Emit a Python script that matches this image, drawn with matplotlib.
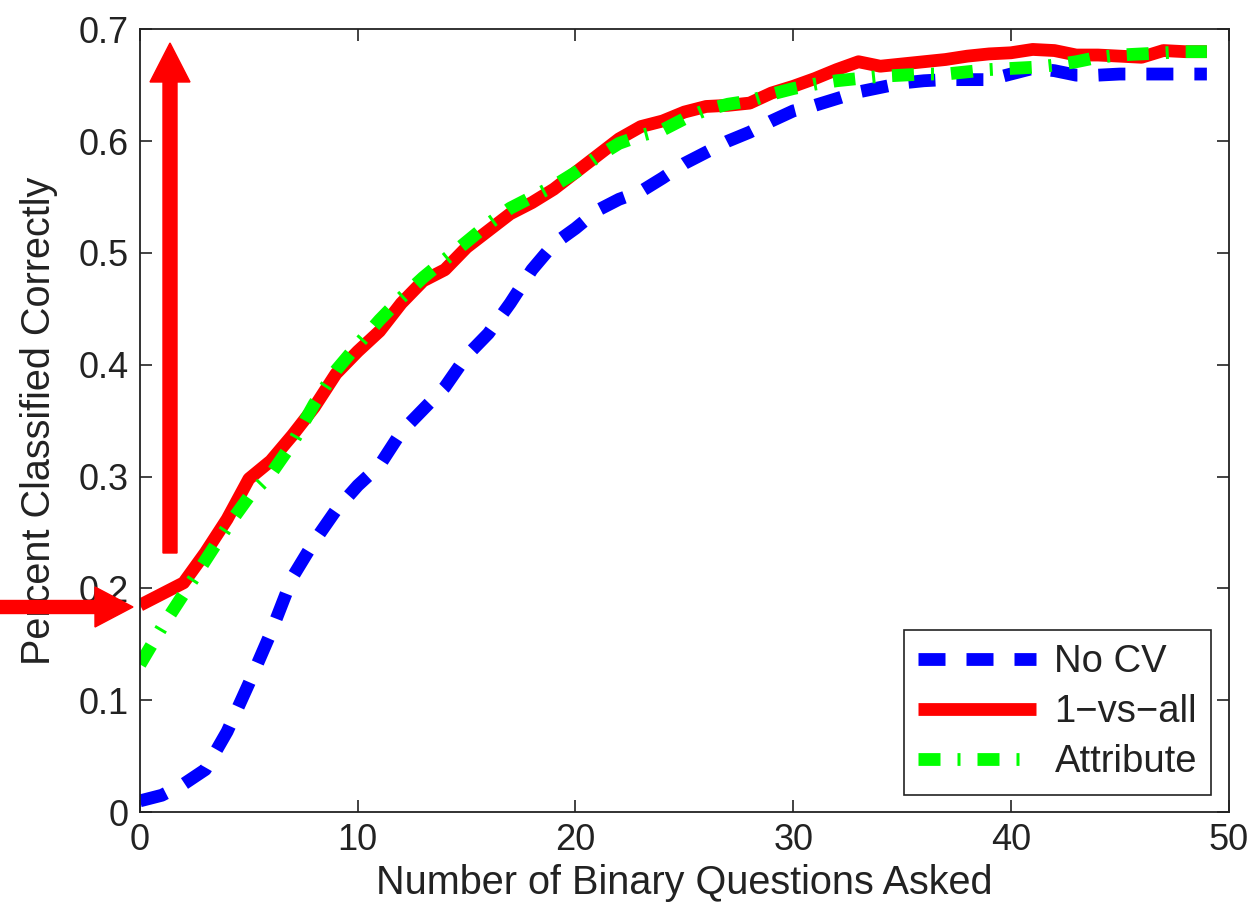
import matplotlib
matplotlib.use("Agg")
import matplotlib.pyplot as plt
from matplotlib.patches import FancyArrow
from matplotlib.transforms import IdentityTransform

plt.rcParams['font.family'] = ['Liberation Sans', 'DejaVu Sans']

# number of binary questions asked
questions = list(range(50))

no_cv = [0.010, 0.015, 0.025, 0.038, 0.072, 0.115, 0.160, 0.210, 0.242, 0.270,
         0.292, 0.310, 0.340, 0.360, 0.380, 0.408, 0.428, 0.455, 0.485, 0.508,
         0.522, 0.538, 0.548, 0.555, 0.567, 0.580, 0.590, 0.600, 0.608, 0.618,
         0.627, 0.632, 0.638, 0.644, 0.648, 0.652, 0.654, 0.655, 0.655, 0.655,
         0.660, 0.665, 0.663, 0.659, 0.659, 0.660, 0.660, 0.660, 0.660, 0.660]

one_vs_all = [0.185, 0.195, 0.205, 0.232, 0.262, 0.298, 0.314, 0.337, 0.362, 0.392,
              0.412, 0.430, 0.455, 0.475, 0.485, 0.505, 0.520, 0.535, 0.545, 0.557,
              0.572, 0.587, 0.602, 0.613, 0.618, 0.626, 0.631, 0.632, 0.634, 0.643,
              0.649, 0.656, 0.664, 0.671, 0.667, 0.669, 0.671, 0.673, 0.676, 0.678,
              0.679, 0.682, 0.681, 0.677, 0.677, 0.676, 0.675, 0.681, 0.680, 0.680]

attribute = [0.132, 0.165, 0.195, 0.225, 0.255, 0.282, 0.302, 0.330, 0.365, 0.395,
             0.418, 0.440, 0.460, 0.478, 0.494, 0.510, 0.526, 0.540, 0.550, 0.560,
             0.572, 0.586, 0.598, 0.605, 0.610, 0.620, 0.628, 0.633, 0.636, 0.642,
             0.647, 0.651, 0.654, 0.656, 0.658, 0.659, 0.660, 0.660, 0.662, 0.664,
             0.665, 0.666, 0.668, 0.671, 0.675, 0.677, 0.678, 0.679, 0.680, 0.680]

fig = plt.figure(figsize=(12.55, 9.16), dpi=100)
ax = fig.add_axes([0.1116, 0.1135, 0.979 - 0.1116, 0.968 - 0.1135])

lw = 9.2
px = 0.72  # points per pixel at 100 dpi
ink = '#222222'

ax.plot(questions, no_cv, color='#0000ff', lw=lw, dash_capstyle='butt',
        dashes=(27 * px / lw, 21 * px / lw), label='No CV')
ax.plot(questions, one_vs_all, color='#ff0000', lw=lw, solid_capstyle='butt',
        label='1\u2212vs\u2212all')
ax.plot(questions, attribute, color='#00ff00', lw=lw, dash_capstyle='butt',
        dashes=(22 * px / lw, 17 * px / lw, 3 * px / lw, 17 * px / lw),
        label='Attribute')

ax.set_xlim(0, 50)
ax.set_ylim(0, 0.7)
ax.set_xticks([0, 10, 20, 30, 40, 50])
ax.set_yticks([0, 0.1, 0.2, 0.3, 0.4, 0.5, 0.6, 0.7])
ax.set_yticklabels(['0', '0.1', '0.2', '0.3', '0.4', '0.5', '0.6', '0.7'])
ax.tick_params(direction='in', top=True, right=True, length=8.5, width=1.2,
               labelsize=26, pad=8, colors=ink)
for s in ax.spines.values():
    s.set_linewidth(1.3)
    s.set_color(ink)

ax.set_xlabel('Number of Binary Questions Asked', fontsize=28.5, color=ink, labelpad=4)
ax.set_ylabel('Percent Classified Correctly', fontsize=28.5, color=ink, labelpad=15)

leg = ax.legend(loc='lower right', fontsize=27.5, handlelength=3.1, handletextpad=0.47,
                borderpad=0.38, labelspacing=0.37, borderaxespad=0.45,
                fancybox=False, framealpha=1, edgecolor=ink)
leg.get_frame().set_linewidth(1.2)
for t in leg.get_texts():
    t.set_color(ink)

# red annotation arrows (pixel coordinates, origin bottom-left)
H = 916
fig.add_artist(FancyArrow(170, H - 553, 0, 510, width=14, head_width=40,
                          head_length=39, length_includes_head=True,
                          color='#ff0000', transform=IdentityTransform(), clip_on=False))
fig.add_artist(FancyArrow(0, H - 607, 133, 0, width=13, head_width=40,
                          head_length=38, length_includes_head=True,
                          color='#ff0000', transform=IdentityTransform(), clip_on=False))

fig.savefig('out.png', dpi=100)
